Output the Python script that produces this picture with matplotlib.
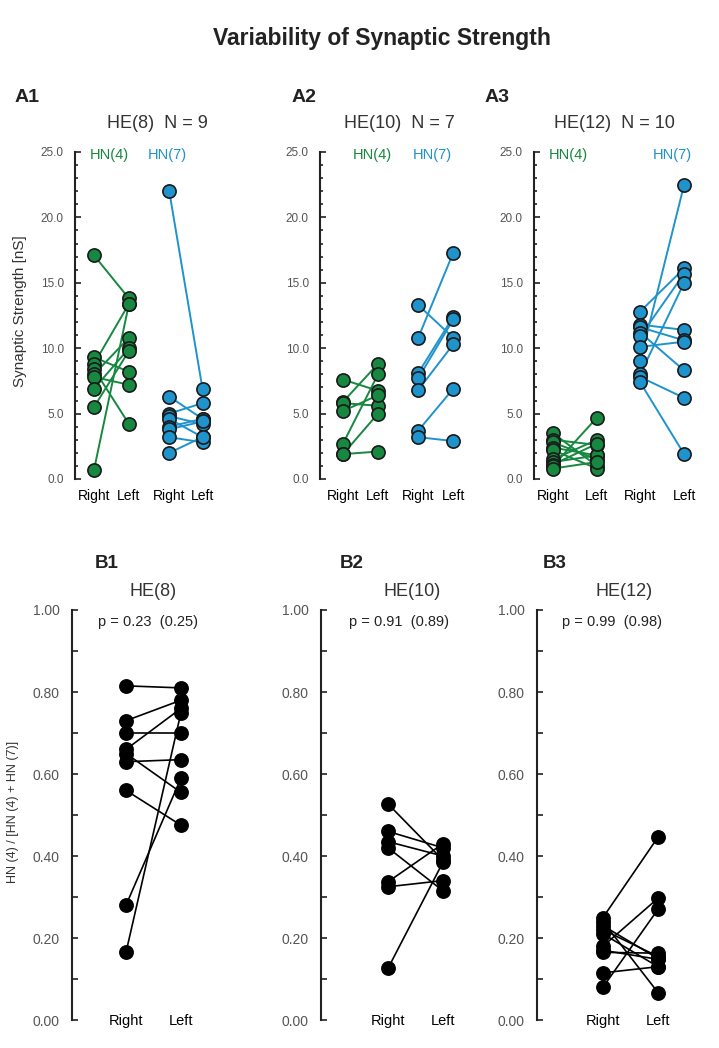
import matplotlib.pyplot as plt
from matplotlib.ticker import MultipleLocator, FormatStrFormatter

plt.rcParams['font.family'] = ['Liberation Sans', 'DejaVu Sans']

W, H = 719, 1048
GREEN = '#16883f'
BLUE = '#1f93cc'

# ---- A panels: synaptic strength [nS], paired Right -> Left
a1_hn4_right = [17.1, 9.3, 8.8, 8.4, 8.0, 7.8, 6.9, 5.5, 0.7]
a1_hn4_left = [13.8, 8.2, 13.4, 4.2, 10.8, 7.2, 10.0, 9.8, 13.4]
a1_hn7_right = [22.0, 6.3, 5.0, 4.8, 4.6, 4.0, 3.8, 3.2, 2.0]
a1_hn7_left = [6.9, 4.6, 5.8, 4.2, 3.2, 4.6, 4.4, 2.8, 3.2]

a2_hn4_right = [7.6, 5.9, 5.8, 5.2, 2.7, 1.9, 1.9]
a2_hn4_left = [6.75, 8.8, 5.6, 6.4, 8.0, 5.0, 2.1]
a2_hn7_right = [13.3, 10.8, 8.1, 7.7, 6.8, 3.7, 3.2]
a2_hn7_left = [10.8, 17.3, 12.4, 12.2, 10.3, 6.9, 2.9]

a3_hn4_right = [3.5, 3.0, 2.8, 2.4, 2.2, 1.5, 1.3, 1.1, 1.0, 0.8]
a3_hn4_left = [1.0, 2.6, 1.5, 1.8, 0.8, 3.0, 1.8, 2.7, 4.7, 1.3]
a3_hn7_right = [12.8, 11.8, 11.6, 11.2, 10.9, 10.1, 9.0, 8.0, 7.8, 7.4]
a3_hn7_left = [16.1, 11.4, 10.6, 8.3, 15.7, 10.5, 22.5, 15.0, 6.2, 1.9]

# ---- B panels: HN(4) / [HN(4) + HN(7)]
b1_right = [0.815, 0.73, 0.70, 0.66, 0.65, 0.63, 0.56, 0.28, 0.165]
b1_left = [0.81, 0.78, 0.70, 0.76, 0.555, 0.635, 0.475, 0.59, 0.75]
b2_right = [0.527, 0.46, 0.435, 0.42, 0.337, 0.325, 0.126]
b2_left = [0.39, 0.42, 0.40, 0.315, 0.43, 0.34, 0.385]
b3_right = [0.25, 0.24, 0.23, 0.22, 0.21, 0.18, 0.17, 0.165, 0.115, 0.08]
b3_left = [0.446, 0.067, 0.15, 0.155, 0.13, 0.297, 0.148, 0.163, 0.13, 0.27]

a_titles = ['HE(8)  N = 9', 'HE(10)  N = 7', 'HE(12)  N = 10']
b_titles = ['HE(8)', 'HE(10)', 'HE(12)']
p_texts = ['p = 0.23  (0.25)', 'p = 0.91  (0.89)', 'p = 0.99  (0.98)']
side_labels = ['Right', 'Left']


def fx(x):
    return x / W


def fy(y):
    return 1 - y / H


def style_axis(ax, major, minor, fmt, tlen):
    for s in ['top', 'right', 'bottom']:
        ax.spines[s].set_visible(False)
    ax.spines['left'].set_linewidth(1.5)
    ax.spines['left'].set_color('#222222')
    ax.yaxis.set_major_locator(MultipleLocator(major))
    ax.yaxis.set_minor_locator(MultipleLocator(minor))
    ax.yaxis.set_major_formatter(FormatStrFormatter(fmt))
    ax.tick_params(axis='y', which='both', direction='in', width=1.2,
                   color='#222222', labelcolor='#555555')
    ax.tick_params(axis='y', which='major', length=tlen[0])
    ax.tick_params(axis='y', which='minor', length=tlen[1])
    ax.tick_params(axis='x', length=0)


def pairs(ax, xr, xl, right, left, color, edge, lw):
    for r, l in zip(right, left):
        ax.plot([xr, xl], [r, l], color=color, lw=lw, zorder=2, clip_on=False)
    ax.plot([xr] * len(right), right, 'o', ms=9.5, mfc=color, mec=edge,
            mew=1.2, zorder=3, clip_on=False)
    ax.plot([xl] * len(left), left, 'o', ms=9.5, mfc=color, mec=edge,
            mew=1.2, zorder=3, clip_on=False)


fig = plt.figure(figsize=(W / 100, H / 100), dpi=100)

fig.text(fx(382), fy(38), 'Variability of Synaptic Strength', fontsize=16.5,
         fontweight='bold', ha='center', va='center', color='#222222')

# ---- A row
a_data = [
    (a1_hn4_right, a1_hn4_left, a1_hn7_right, a1_hn7_left),
    (a2_hn4_right, a2_hn4_left, a2_hn7_right, a2_hn7_left),
    (a3_hn4_right, a3_hn4_left, a3_hn7_right, a3_hn7_left),
]
# spine px, right edge px, px per unit, px of first group, group positions
a_geom = [
    (75, 225, 35, 94, [1, 2, 3.15, 4.1]),
    (320, 470, 35, 343, [1, 2, 3.15, 4.15]),
    (534, 710, 44, 553, [1, 2, 2.98, 3.98]),
]
a_letters = [('A1', 15), ('A2', 292), ('A3', 485)]
a_title_x = [157, 399, 614]
a_hn_x = [(109, 167), (372, 432), (568, 672)]

for i in range(3):
    sp, rt, unit, px0, pos = a_geom[i]
    ax = fig.add_axes([fx(sp), fy(479), fx(rt - sp), (479 - 152) / H])
    lo = pos[0] - (px0 - sp) / unit
    ax.set_xlim(lo, lo + (rt - sp) / unit)
    ax.set_ylim(0, 25)
    style_axis(ax, 5, 1, '%.1f', (4, 2.5))
    ax.tick_params(axis='y', labelsize=8.5, pad=8)
    hr, hl, br, bl = a_data[i]
    pairs(ax, pos[0], pos[1], hr, hl, GREEN, '#1a1a1a', 1.4)
    pairs(ax, pos[2], pos[3], br, bl, BLUE, '#1a1a1a', 1.4)
    ax.set_xticks(pos, side_labels * 2)
    ax.tick_params(axis='x', labelsize=10, pad=7.5)
    fig.text(fx(a_letters[i][1]), fy(97), a_letters[i][0], fontsize=14,
             fontweight='bold', ha='left', va='center', color='#222222')
    fig.text(fx(a_title_x[i]), fy(124), a_titles[i], fontsize=13,
             ha='center', va='center', color='#333333')
    fig.text(fx(a_hn_x[i][0]), fy(155), 'HN(4)', fontsize=10.5, color=GREEN,
             ha='center', va='center')
    fig.text(fx(a_hn_x[i][1]), fy(155), 'HN(7)', fontsize=10.5, color=BLUE,
             ha='center', va='center')

fig.text(fx(20), fy(311), 'Synaptic Strength [nS]', rotation=90, fontsize=11,
         ha='center', va='center', color='#333333')

# ---- B row
b_data = [(b1_right, b1_left), (b2_right, b2_left), (b3_right, b3_left)]
# spine px, right edge px, px of "Right" column
b_geom = [(72, 212, 126), (321, 461, 388), (537, 687, 603)]
b_letters = [('B1', 95), ('B2', 340), ('B3', 543)]
b_title_x = [153, 412, 624]
p_x = [148, 399, 612]

for i in range(3):
    sp, rt, px1 = b_geom[i]
    unit = 55
    ax = fig.add_axes([fx(sp), fy(1020), fx(rt - sp), (1020 - 610) / H])
    lo = 1 - (px1 - sp) / unit
    ax.set_xlim(lo, lo + (rt - sp) / unit)
    ax.set_ylim(0, 1)
    style_axis(ax, 0.2, 0.1, '%.2f', (4.5, 4.5))
    ax.tick_params(axis='y', labelsize=10, pad=9)
    r, l = b_data[i]
    pairs(ax, 1, 2, r, l, 'black', 'black', 1.2)
    ax.set_xticks([1, 2], side_labels)
    ax.tick_params(axis='x', labelsize=10.5, pad=-4.5)
    fig.text(fx(b_letters[i][1]), fy(564), b_letters[i][0], fontsize=13.5,
             fontweight='bold', ha='left', va='center', color='#222222')
    fig.text(fx(b_title_x[i]), fy(591), b_titles[i], fontsize=13,
             ha='center', va='center', color='#333333')
    fig.text(fx(p_x[i]), fy(622), p_texts[i], fontsize=10.5,
             ha='center', va='center', color='#222222')

fig.text(fx(13), fy(812), 'HN (4) / [HN (4) + HN (7)]', rotation=90,
         fontsize=9, ha='center', va='center', color='#333333')

fig.savefig('out.png', dpi=100)
